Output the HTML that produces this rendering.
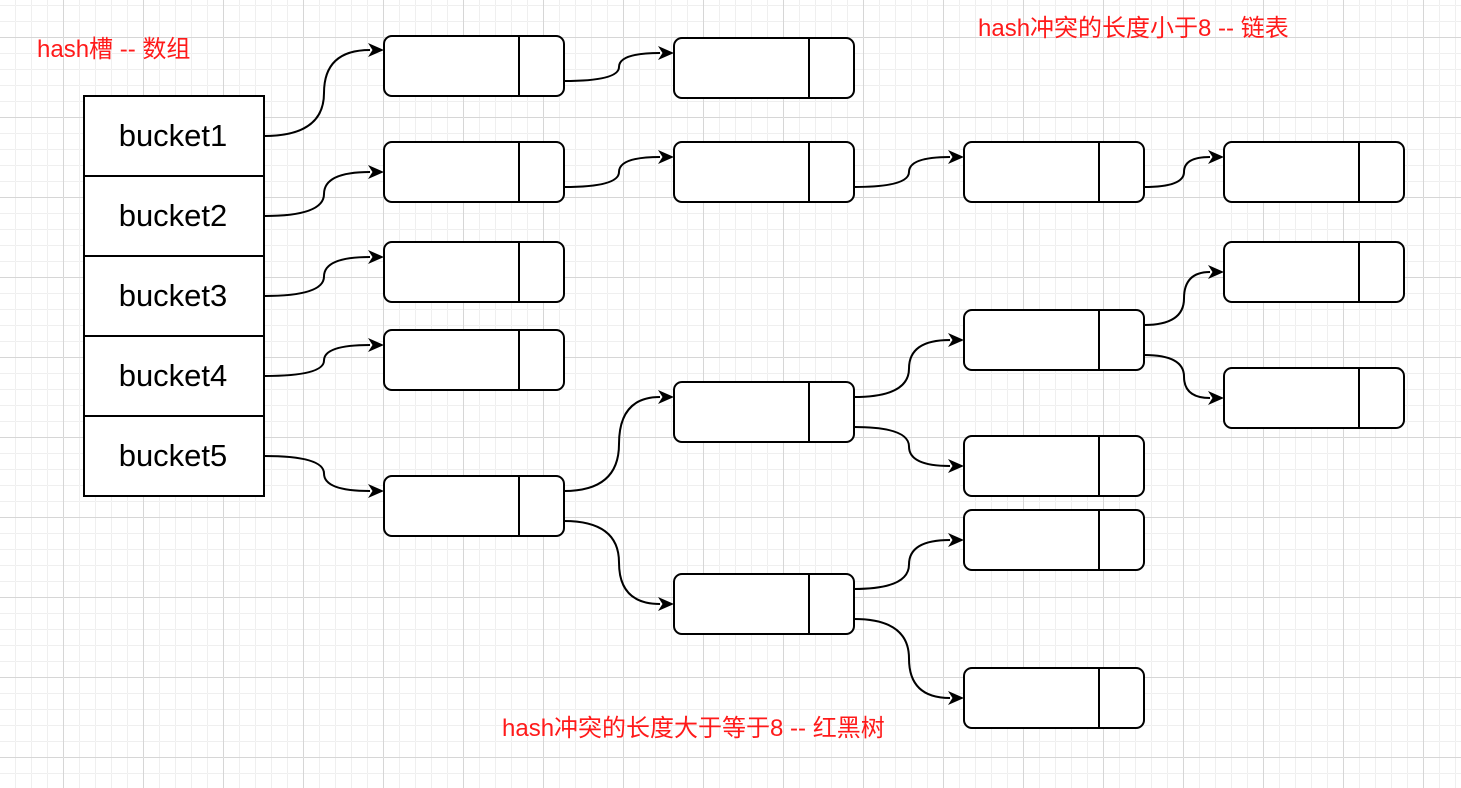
<!DOCTYPE html>
<html><head><meta charset="utf-8"><style>
html,body{margin:0;padding:0;background:#fff;}
body{width:1461px;height:788px;overflow:hidden;position:relative;font-family:"Liberation Sans","Noto Sans CJK SC",sans-serif;}
.t{position:absolute;color:#ff1a1a;font-size:24px;white-space:nowrap;line-height:1;}
.b{position:absolute;left:83px;width:180px;height:80px;font-size:31px;line-height:80px;text-align:center;color:#000;}
svg{position:absolute;left:0;top:0;}
</style></head><body>
<svg id="s" width="1461" height="788" xmlns="http://www.w3.org/2000/svg">
<defs>
<pattern id="minor" width="16" height="16" patternUnits="userSpaceOnUse" x="15" y="5"><path d="M0 0H16M0 0V16" stroke="#efefef" stroke-width="1" fill="none" transform="translate(0.5,0.5)"/></pattern>
<pattern id="major" width="80" height="80" patternUnits="userSpaceOnUse" x="63" y="37"><path d="M0 0H80M0 0V80" stroke="#d6d6d6" stroke-width="1" fill="none" transform="translate(0.5,0.5)"/></pattern>
<marker id="ar" markerWidth="16" markerHeight="14" refX="2" refY="7" orient="auto" markerUnits="userSpaceOnUse"><path d="M0 0 L16 7 L0 14 L4.5 7 Z" fill="#000" stroke="none"/></marker>
</defs>
<rect width="1461" height="788" fill="url(#minor)"/>
<rect width="1461" height="788" fill="url(#major)"/>
<g id="g" fill="#fff" stroke="#000" stroke-width="2"></g>
</svg>
<div class="t" style="left:37px;top:38px">hash槽 -- 数组</div>
<div class="t" style="left:978px;top:17px">hash冲突的长度小于8 -- 链表</div>
<div class="t" style="left:502px;top:717px">hash冲突的长度大于等于8 -- 红黑树</div>
<div class="b" style="top:96px">bucket1</div>
<div class="b" style="top:176px">bucket2</div>
<div class="b" style="top:256px">bucket3</div>
<div class="b" style="top:336px">bucket4</div>
<div class="b" style="top:416px">bucket5</div>
<script>
var g=document.getElementById('g'),h='';
h+='<rect x="84" y="96" width="180" height="400" fill="#fff"/>';
for(var i=1;i<5;i++)h+='<line x1="84" y1="'+(96+80*i)+'" x2="264" y2="'+(96+80*i)+'"/>';
var n=[[384,36],[674,38],[384,142],[674,142],[964,142],[1224,142],[384,242],[384,330],[384,476],[674,382],[674,574],[964,310],[964,436],[1224,242],[1224,368],[964,510],[964,668]];
n.forEach(function(p){h+='<rect x="'+p[0]+'" y="'+p[1]+'" width="180" height="60" rx="8"/><line x1="'+(p[0]+135)+'" y1="'+p[1]+'" x2="'+(p[0]+135)+'" y2="'+(p[1]+60)+'"/>';});
var e=[[264,136,384,50],[564,81,674,53],[264,216,384,172],[564,187,674,157],[854,187,964,157],[1144,187,1224,157],[264,296,384,257],[264,376,384,345],[264,456,384,491],[564,491,674,397],[564,521,674,604],[854,397,964,340],[854,427,964,466],[1144,325,1224,272],[1144,355,1224,398],[854,589,964,540],[854,619,964,698]];
e.forEach(function(a){var x1=a[0],y1=a[1],x2=a[2]-14,y2=a[3],xm=(a[0]+a[2])/2,ym=(y1+y2)/2;
h+='<path d="M'+x1+' '+y1+' Q'+xm+' '+y1+' '+xm+' '+ym+' Q'+xm+' '+y2+' '+x2+' '+y2+'" fill="none" marker-end="url(#ar)"/>';});
g.innerHTML=h;
</script>
</body></html>
